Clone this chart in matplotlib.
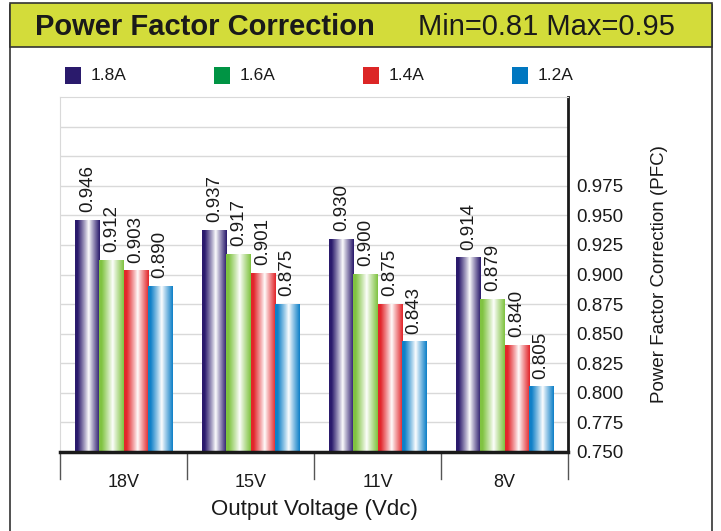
import numpy as np
import matplotlib.pyplot as plt
from matplotlib.colors import to_rgb
from matplotlib.patches import Rectangle

plt.rcParams["font.family"] = ["Liberation Sans", "DejaVu Sans"]

voltages = ["18V", "15V", "11V", "8V"]
currents = ["1.8A", "1.6A", "1.4A", "1.2A"]
pfc = {
    "1.8A": [0.946, 0.937, 0.930, 0.914],
    "1.6A": [0.912, 0.917, 0.900, 0.879],
    "1.4A": [0.903, 0.901, 0.875, 0.840],
    "1.2A": [0.890, 0.875, 0.843, 0.805],
}
yticks = [0.750, 0.775, 0.800, 0.825, 0.850, 0.875, 0.900, 0.925, 0.950, 0.975]

bar_col = {"1.8A": "#2a1a6c", "1.6A": "#80c341", "1.4A": "#e2262b", "1.2A": "#0f80c8"}
leg_col = {"1.8A": "#2a1a6c", "1.6A": "#009444", "1.4A": "#dc2626", "1.2A": "#0077c0"}
YMIN, YMAX = 0.75, 1.05

fig = plt.figure(figsize=(7.21, 5.31), dpi=100)

# frame + title band
fig.patches.append(Rectangle((10 / 721, -0.01), 702 / 721, 1.0, transform=fig.transFigure,
                             fill=False, edgecolor="#333333", lw=1.2))
fig.patches.append(Rectangle((10 / 721, 1 - 47 / 531), 702 / 721, 44 / 531, transform=fig.transFigure,
                             facecolor="#d3dc3a", edgecolor="#333333", lw=1.2))
fig.text(35 / 721, 1 - 27 / 531, "Power Factor Correction", fontsize=21, fontweight="bold",
         color="#1a1a1a", ha="left", va="center")
fig.text(418 / 721, 1 - 27 / 531, "Min=0.81 Max=0.95", fontsize=21, color="#1a1a1a",
         ha="left", va="center")

# legend
for i, c in enumerate(currents):
    x0 = (65 + i * 149) / 721
    fig.patches.append(Rectangle((x0, 1 - 84 / 531), 16 / 721, 17 / 531, transform=fig.transFigure,
                                 facecolor=leg_col[c], edgecolor="none"))
    fig.text(x0 + 26 / 721, 1 - 75 / 531, c, fontsize=12.5, color="#1a1a1a", ha="left", va="center")

ax = fig.add_axes([60 / 721, 1 - 452 / 531, 508 / 721, 355 / 531])
x = np.arange(len(voltages))
bw = 0.19
prof = np.linspace(0, 1, 64)
shade = np.clip(np.abs(prof - 0.55) / 0.45, 0, 1) ** 0.9

for i, c in enumerate(currents):
    rgb = np.array(to_rgb(bar_col[c]))
    grad = (1 - shade)[:, None] * np.ones(3) + shade[:, None] * rgb
    img = grad[None, :, :]
    for xi, v in zip(x, pfc[c]):
        xc = xi + (i - 1.5) * bw
        ax.imshow(img, extent=(xc - bw / 2, xc + bw / 2, YMIN, v), aspect="auto",
                  interpolation="bilinear", zorder=2)
        ax.text(xc, v + 0.007, f"{v:.3f}", rotation=90, ha="center", va="bottom",
                fontsize=13.5, color="#1a1a1a", zorder=3)

ax.set_xlim(-0.5, 3.5)
ax.set_ylim(YMIN, YMAX)
for g in np.arange(0.775, 1.03, 0.025):
    ax.axhline(g, color="#d9d9d9", lw=1.0, zorder=1)

ax.yaxis.tick_right()
ax.yaxis.set_label_position("right")
ax.set_yticks(yticks)
ax.set_yticklabels([f"{t:.3f}" for t in yticks], fontsize=13.5, color="#1a1a1a")
ax.tick_params(axis="y", length=0, pad=6)
ax.set_ylabel("Power Factor Correction (PFC)", fontsize=13.5, color="#1a1a1a", labelpad=20)

ax.set_xticks([])
for k in range(len(voltages) + 1):
    ax.plot([k - 0.5, k - 0.5], [YMIN, YMIN - 0.023], color="#555555", lw=1, clip_on=False)
for xi, lab in zip(x, voltages):
    ax.text(xi, YMIN - 0.026, lab, ha="center", va="center", fontsize=13, color="#1a1a1a")
ax.text(1.5, YMIN - 0.049, "Output Voltage (Vdc)", ha="center", va="center",
        fontsize=16, color="#1a1a1a")

ax.spines["left"].set_color("#d9d9d9")
ax.spines["top"].set_color("#d9d9d9")
ax.spines["right"].set_color("#1a1a1a")
ax.spines["right"].set_linewidth(2)
ax.spines["bottom"].set_color("#1a1a1a")
ax.spines["bottom"].set_linewidth(2.5)

fig.savefig("out.png", dpi=100, facecolor="white")
